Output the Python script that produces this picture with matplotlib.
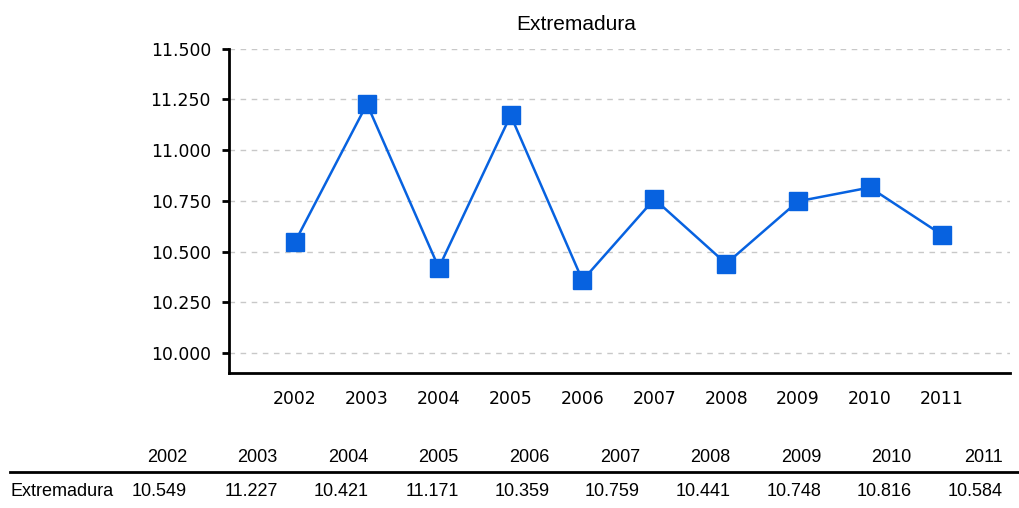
import numpy as np
import matplotlib
matplotlib.use("Agg")
import matplotlib.pyplot as plt
from matplotlib.lines import Line2D

# Data
years = [2002, 2003, 2004, 2005, 2006, 2007, 2008, 2009, 2010, 2011]
values = [10.549, 11.227, 10.421, 11.171, 10.359, 10.759, 10.441, 10.748, 10.816, 10.584]
region = "Extremadura"
yticks = [10.0, 10.25, 10.5, 10.75, 11.0, 11.25, 11.5]

W, H = 1019, 508
BLUE = "#0762e0"

fig = plt.figure(figsize=(W / 100, H / 100), dpi=100)
ax = fig.add_axes([229 / W, 1 - 373 / H, (1010 - 229) / W, (373 - 48.5) / H])

ax.plot(years, values, color=BLUE, lw=1.8, marker="s", ms=13.5,
        markerfacecolor=BLUE, markeredgecolor=BLUE, zorder=3, clip_on=False)

ax.set_xlim(2001.08, 2011.95)
ax.set_ylim(9.903, 11.5)
ax.set_xticks(years)
ax.set_xticklabels([str(y) for y in years], family="DejaVu Sans", fontsize=12.4)
ax.set_yticks(yticks)
ax.set_yticklabels([f"{v:.3f}" for v in yticks], family="DejaVu Sans", fontsize=12.4)
ax.tick_params(axis="x", length=0, pad=12)
ax.tick_params(axis="y", length=5, width=2, pad=8, direction="out")

ax.grid(axis="y", color="#c8c8c8", linestyle=(0, (4, 4)), lw=1)
ax.set_axisbelow(True)
for s in ["top", "right"]:
    ax.spines[s].set_visible(False)
for s in ["left", "bottom"]:
    ax.spines[s].set_linewidth(2)

fig.text(576 / W, 1 - 24 / H, region, ha="center", va="center",
         family="Liberation Sans", fontsize=15)

# table under the chart
tfont = dict(family="Liberation Sans", fontsize=13)
for k, (y, v) in enumerate(zip(years, values)):
    xr = (187 + 90.6 * k) / W
    fig.text(xr, 1 - 457 / H, str(y), ha="right", va="center", **tfont)
    fig.text(xr, 1 - 492 / H, f"{v:.3f}", ha="right", va="center", **tfont)
fig.text(10 / W, 1 - 492 / H, region, ha="left", va="center", **tfont)
fig.add_artist(Line2D([10 / W, 1.0], [1 - 471.5 / H, 1 - 471.5 / H],
                      transform=fig.transFigure, color="black", lw=2))

fig.savefig("out.png", dpi=100)
